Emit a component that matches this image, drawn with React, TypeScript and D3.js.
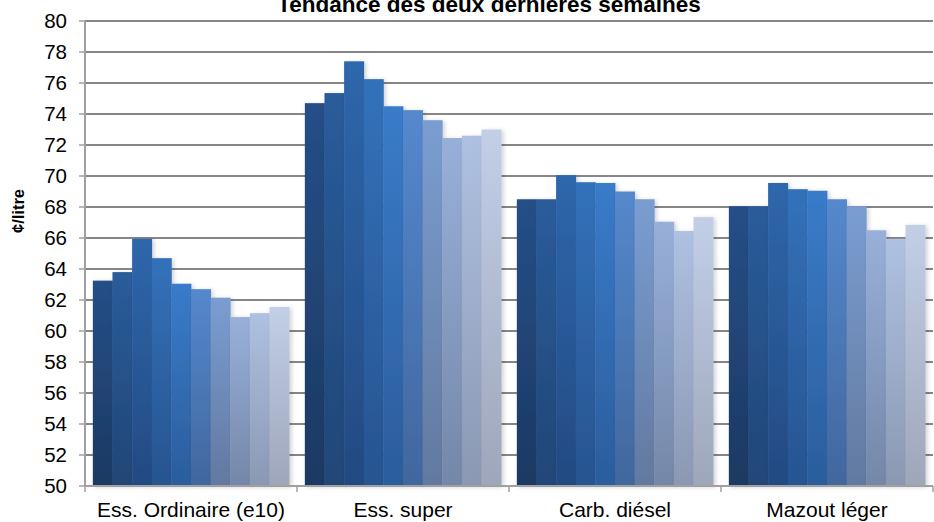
import { useEffect, useRef } from 'react';
import * as d3 from 'd3';

const categories = ['Ess. Ordinaire (e10)', 'Ess. super', 'Carb. diésel', 'Mazout léger'];
const weeks = ['s1', 's2', 's3', 's4', 's5', 's6', 's7', 's8', 's9', 's10'];

const ordinaire = [63.25, 63.8, 65.95, 64.7, 63.05, 62.7, 62.15, 60.9, 61.15, 61.55];
const superEss = [74.7, 75.35, 77.4, 76.25, 74.5, 74.25, 73.6, 72.45, 72.6, 73.0];
const diesel = [68.5, 68.5, 70.05, 69.6, 69.55, 69.0, 68.5, 67.05, 66.45, 67.35];
const mazout = [68.05, 68.05, 69.55, 69.15, 69.05, 68.5, 68.05, 66.5, 65.95, 66.85];

const yTicks = d3.range(50, 81, 2);

const topColors = ['#254f88', '#2a5c9b', '#2e67ac', '#3371ba', '#3a7bc9', '#5588cd', '#7a9dd1', '#98b0d9', '#afc1e1', '#c2cfe7'];
const bottomColors = ['#1c3962', '#214677', '#234a82', '#275490', '#2b5d9c', '#41679e', '#62799f', '#7487a8', '#8a98b3', '#9ea6ba'];

export default function App() {
  const svgRef = useRef<SVGSVGElement>(null);

  useEffect(() => {
    if (!svgRef.current) return;
    const svg = d3.select(svgRef.current);
    svg.selectAll('*').remove();

    const width = 934;
    const height = 522;
    const margin = { top: 21, right: 1, bottom: 36, left: 85 };
    const series = [ordinaire, superEss, diesel, mazout];
    const font = 'Liberation Sans, Arial, sans-serif';

    const defs = svg.append('defs');
    weeks.forEach((w, i) => {
      const g = defs.append('linearGradient')
        .attr('id', `grad-${i}`)
        .attr('x1', 0).attr('y1', 0).attr('x2', 0).attr('y2', 1);
      g.append('stop').attr('offset', '0%').attr('stop-color', topColors[i]);
      g.append('stop').attr('offset', '100%').attr('stop-color', bottomColors[i]);
    });
    const shadow = defs.append('filter').attr('id', 'shadow')
      .attr('x', '-20%').attr('y', '-5%').attr('width', '150%').attr('height', '110%');
    shadow.append('feDropShadow')
      .attr('dx', 2).attr('dy', 1).attr('stdDeviation', 2)
      .attr('flood-color', '#000').attr('flood-opacity', 0.18);

    const x0 = d3.scaleBand()
      .domain(categories)
      .range([margin.left, width - margin.right])
      .paddingInner(0)
      .paddingOuter(0);

    const x1 = d3.scaleBand()
      .domain(weeks)
      .range([0, x0.bandwidth()])
      .paddingOuter(0.4)
      .paddingInner(0);

    const y = d3.scaleLinear()
      .domain([50, 80])
      .range([height - margin.bottom, margin.top]);

    // Gridlines
    svg.append('g')
      .selectAll('line')
      .data(yTicks)
      .join('line')
      .attr('x1', margin.left)
      .attr('x2', width - margin.right)
      .attr('y1', d => y(d))
      .attr('y2', d => y(d))
      .attr('stroke', '#868686')
      .attr('stroke-width', 2);

    // Bars
    const groups = svg.append('g')
      .selectAll('g')
      .data(categories)
      .join('g')
      .attr('transform', d => `translate(${x0(d)},0)`);

    groups.selectAll('rect')
      .data((_, ci) => series[ci].map((v, i) => ({ v, i })))
      .join('rect')
      .attr('x', d => x1(weeks[d.i]) || 0)
      .attr('y', d => y(d.v))
      .attr('width', x1.bandwidth() + 0.4)
      .attr('height', d => y(50) - y(d.v))
      .attr('fill', d => `url(#grad-${d.i})`)
      .attr('filter', 'url(#shadow)');

    // Left axis
    const axisColor = '#a0a0a0';
    svg.append('line')
      .attr('x1', margin.left).attr('x2', margin.left)
      .attr('y1', y(80)).attr('y2', y(50) + 1)
      .attr('stroke', axisColor).attr('stroke-width', 2);
    svg.append('g')
      .selectAll('line')
      .data(yTicks)
      .join('line')
      .attr('x1', margin.left - 6).attr('x2', margin.left)
      .attr('y1', d => y(d)).attr('y2', d => y(d))
      .attr('stroke', axisColor).attr('stroke-width', 1.5);
    svg.append('g')
      .selectAll('text')
      .data(yTicks)
      .join('text')
      .attr('x', 67)
      .attr('y', d => y(d))
      .attr('dy', '0.36em')
      .attr('text-anchor', 'end')
      .attr('font-family', font)
      .attr('font-size', 20.5)
      .attr('fill', '#000')
      .text(d => d);

    // Bottom axis
    svg.append('line')
      .attr('x1', margin.left).attr('x2', width - margin.right)
      .attr('y1', y(50)).attr('y2', y(50))
      .attr('stroke', axisColor).attr('stroke-width', 2);
    const bounds = categories.map(c => x0(c) || 0).concat([width - margin.right]);
    svg.append('g')
      .selectAll('line')
      .data(bounds)
      .join('line')
      .attr('x1', d => d).attr('x2', d => d)
      .attr('y1', y(50)).attr('y2', y(50) + 6)
      .attr('stroke', axisColor).attr('stroke-width', 1.5);
    svg.append('g')
      .selectAll('text')
      .data(categories)
      .join('text')
      .attr('x', d => (x0(d) || 0) + x0.bandwidth() / 2)
      .attr('y', 517)
      .attr('text-anchor', 'middle')
      .attr('font-family', font)
      .attr('font-size', 21)
      .attr('fill', '#000')
      .text(d => d);

    // Y label
    svg.append('text')
      .attr('transform', 'translate(24,211) rotate(-90)')
      .attr('text-anchor', 'middle')
      .attr('font-family', font)
      .attr('font-weight', 'bold')
      .attr('font-size', 16.5)
      .text('¢/litre');

    // Title
    svg.append('text')
      .attr('x', 489)
      .attr('y', 12)
      .attr('text-anchor', 'middle')
      .attr('font-family', font)
      .attr('font-weight', 'bold')
      .attr('font-size', 22.5)
      .text('Tendance des deux dernières semaines');
  }, []);

  return (
    <svg
      ref={svgRef}
      width={934}
      height={522}
      style={{ position: 'absolute', left: 0, top: 0, background: '#fff' }}
    />
  );
}
